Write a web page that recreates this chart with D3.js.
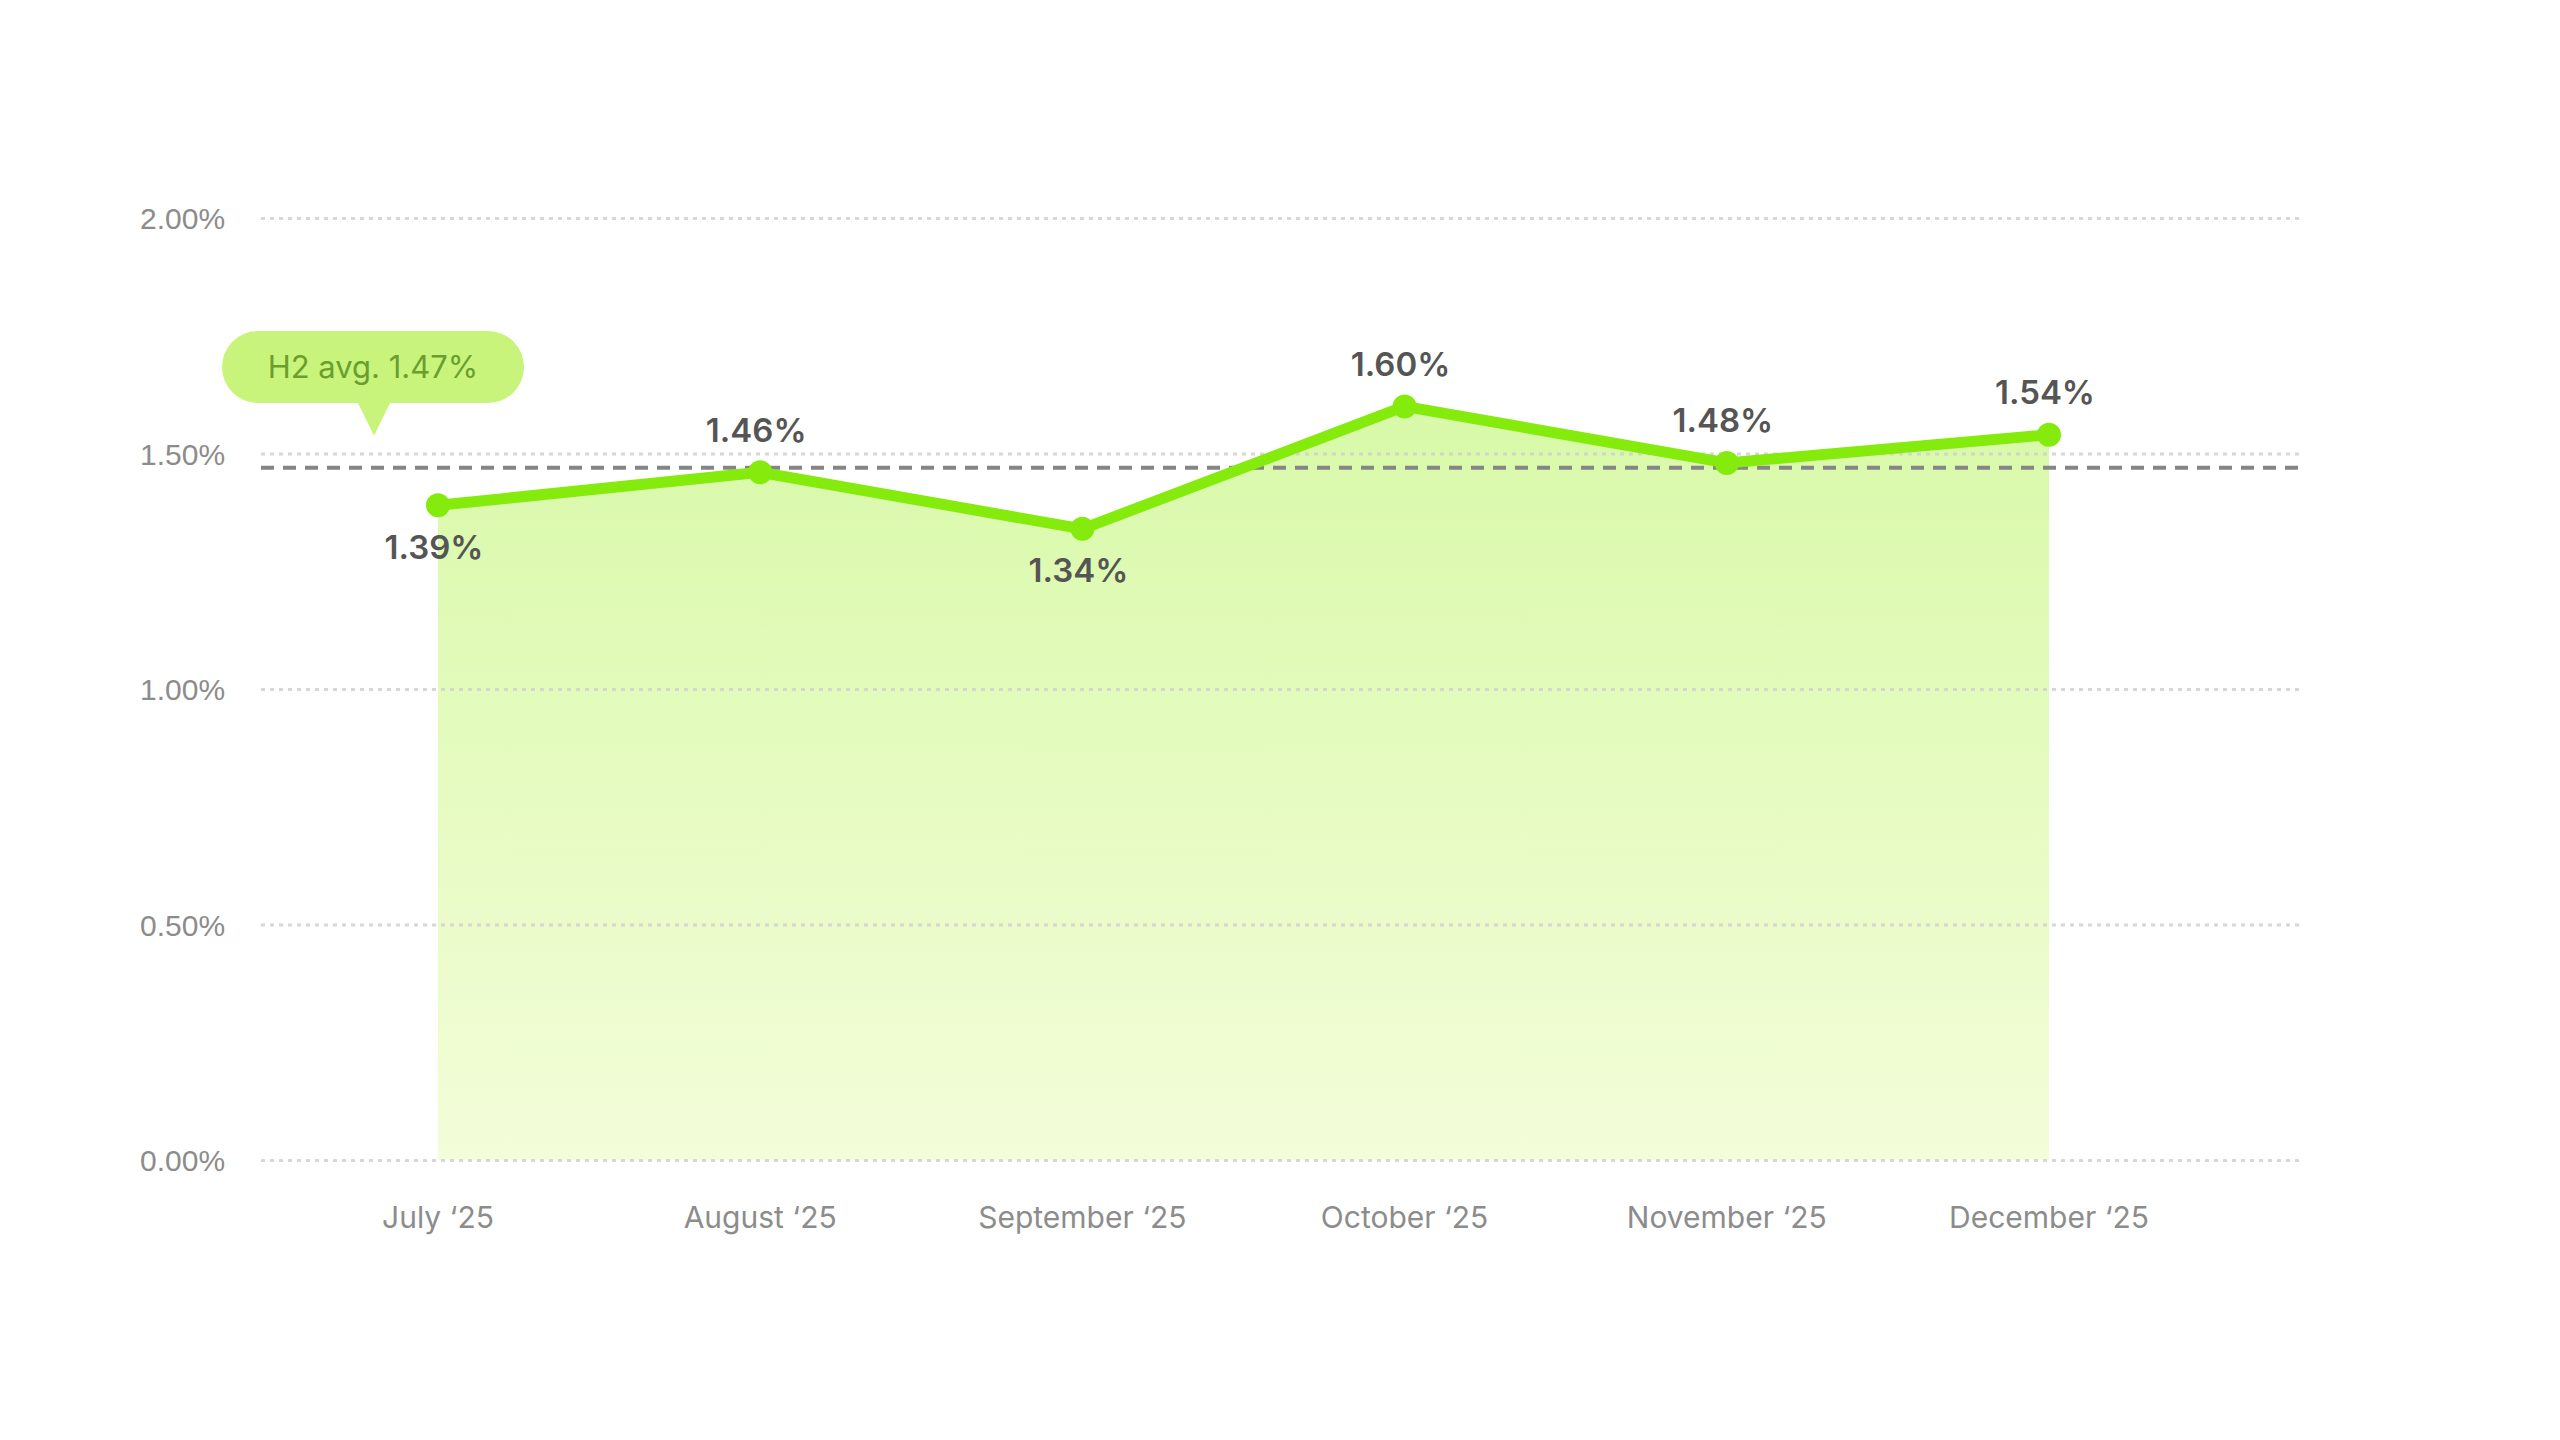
<!DOCTYPE html>
<html>
<head>
<meta charset="utf-8">
<script src="https://cdn.jsdelivr.net/npm/d3@7"></script>
<style>
    body { margin: 0; background: #fff; }
    svg { display: block; font-family: Inter, "Noto Sans", sans-serif; }
</style>
</head>
<body>
<div id="chart"></div>
<script>
// chart data
const months = ["July \u201825", "August \u201825", "September \u201825", "October \u201825", "November \u201825", "December \u201825"];
const rates = [1.39, 1.46, 1.34, 1.60, 1.48, 1.54];
const labelSide = ["below", "above", "below", "above", "above", "above"];
const yTicks = [0, 0.5, 1.0, 1.5, 2.0];
const avgValue = 1.47;
const avgLabel = "H2 avg. 1.47%";

const W = 2560, H = 1440;

const svg = d3.select("#chart").append("svg")
    .attr("width", W)
    .attr("height", H);

// scales
const x = d3.scalePoint()
    .domain(months)
    .range([438, 2049]);

const y = d3.scaleLinear()
    .domain([0, 2])
    .range([1160, 218]);

const gridLeft = 261, gridRight = 2299;

// gradient for area
const defs = svg.append("defs");
const grad = defs.append("linearGradient")
    .attr("id", "areaGrad")
    .attr("x1", 0).attr("y1", 0).attr("x2", 0).attr("y2", 1);
grad.append("stop").attr("offset", "0%").attr("stop-color", "#d8f9a8");
grad.append("stop").attr("offset", "100%").attr("stop-color", "#f3fdd9");

// area (drawn first so the grid shows through)
const area = d3.area()
    .x((d, i) => x(months[i]))
    .y0(y(0))
    .y1(d => y(d));

svg.append("path")
    .datum(rates)
    .attr("d", area)
    .attr("fill", "url(#areaGrad)");

// y grid + labels
const yAxis = d3.axisLeft(y)
    .tickValues(yTicks)
    .tickSize(-(gridRight - gridLeft))
    .tickPadding(0)
    .tickFormat(d => d3.format(".2f")(d) + "%");

const gy = svg.append("g")
    .attr("transform", `translate(${gridLeft},0)`)
    .call(yAxis);
gy.select(".domain").remove();
gy.selectAll(".tick line")
    .attr("stroke", "#d0d0d0")
    .attr("stroke-opacity", 0.85)
    .attr("stroke-width", 3)
    .attr("stroke-dasharray", "4,5");
gy.selectAll(".tick text")
    .attr("x", 140 - gridLeft)
    .attr("text-anchor", "start")
    .attr("dy", "0.35em")
    .attr("fill", "#8c8c8c")
    .attr("font-size", 30);

// average dashed line
svg.append("line")
    .attr("x1", gridLeft)
    .attr("x2", gridRight)
    .attr("y1", y(avgValue))
    .attr("y2", y(avgValue))
    .attr("stroke", "#858585")
    .attr("stroke-width", 4)
    .attr("stroke-dasharray", "13,9");

// line
const line = d3.line()
    .x((d, i) => x(months[i]))
    .y(d => y(d));

svg.append("path")
    .datum(rates)
    .attr("d", line)
    .attr("fill", "none")
    .attr("stroke", "#84eb0c")
    .attr("stroke-width", 11)
    .attr("stroke-linejoin", "round");

svg.selectAll("circle.pt")
    .data(rates)
    .enter()
    .append("circle")
    .attr("class", "pt")
    .attr("cx", (d, i) => x(months[i]))
    .attr("cy", d => y(d))
    .attr("r", 12)
    .attr("fill", "#84eb0c");

// value labels
svg.selectAll("text.val")
    .data(rates)
    .enter()
    .append("text")
    .attr("class", "val")
    .attr("x", (d, i) => x(months[i]) - 4)
    .attr("y", (d, i) => y(d) + (labelSide[i] === "above" ? -42 : 42))
    .attr("dy", "0.35em")
    .attr("text-anchor", "middle")
    .attr("font-size", 33)
    .attr("font-weight", 600)
    .attr("fill", "#555555")
    .text(d => d3.format(".2f")(d) + "%");

// x labels
svg.selectAll("text.month")
    .data(months)
    .enter()
    .append("text")
    .attr("class", "month")
    .attr("x", d => x(d))
    .attr("y", 1217)
    .attr("dy", "0.35em")
    .attr("text-anchor", "middle")
    .attr("font-size", 30)
    .attr("fill", "#8c8c8c")
    .text(d => d);

// avg callout bubble
const bx = 222, by = 331, bw = 302, bh = 72;
const tipX = 374, tipY = y(avgValue) - 32;
const callout = svg.append("g");
callout.append("rect")
    .attr("x", bx).attr("y", by)
    .attr("width", bw).attr("height", bh)
    .attr("rx", bh / 2)
    .attr("fill", "#c8f47c");
callout.append("path")
    .attr("d", `M${tipX - 17},${by + bh - 2} L${tipX + 17},${by + bh - 2} L${tipX},${tipY} Z`)
    .attr("fill", "#c8f47c");
callout.append("text")
    .attr("x", bx + bw / 2)
    .attr("y", by + bh / 2)
    .attr("dy", "0.35em")
    .attr("text-anchor", "middle")
    .attr("font-size", 31)
    .attr("fill", "#6b9e2e")
    .text(avgLabel);
</script>
</body>
</html>
